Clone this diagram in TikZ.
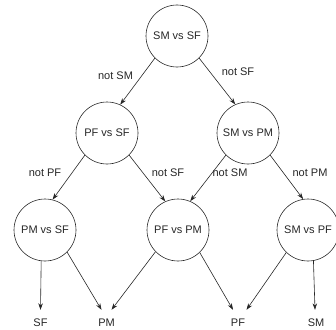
\documentclass[tikz,border=0pt]{standalone}
\usepackage{fontspec}
\setmainfont{Liberation Sans}
\usetikzlibrary{arrows.meta}
\begin{document}
\begin{tikzpicture}[x=1pt,y=-1pt,
  font=\fontsize{11}{13}\selectfont,
  dec/.style={circle,draw=black!85,line width=0.6pt,minimum size=62pt,inner sep=0pt,text=black!85},
  leaf/.style={inner sep=0pt,minimum height=26pt,text=black!85},
  lab/.style={inner sep=0pt,text=black!85},
  arr/.style={draw=black!85,line width=0.6pt,-{Stealth[length=6.5pt,width=4.5pt]}}]
\useasboundingbox (0,0) rectangle (336,329);
\node[dec] (a) at (177,36) {SM vs SF};
\node[dec] (b) at (107,133) {PF vs SF};
\node[dec] (c) at (248,133) {SM vs PM};
\node[dec] (d) at (45,230) {PM vs SF};
\node[dec] (e) at (178,230) {PF vs PM};
\node[dec] (f) at (308,230) {SM vs PF};
\node[leaf] (sf) at (40.5,323) {SF};
\node[leaf] (pm) at (106.5,323) {PM};
\node[leaf] (pf) at (238,323) {PF};
\node[leaf] (sm) at (316,323) {SM};
\draw[arr] (a.225) -- (b.65);
\draw[arr] (a.315) -- (c.114);
\draw[arr] (b.225) -- (d.76);
\draw[arr] (b.315) -- (e.114);
\draw[arr] (c.225) -- (e.67);
\draw[arr] (c.315) -- (f.99);
\draw[arr] (d.263) -- (sf.north);
\draw[arr] (d.315) -- ([xshift=-5pt]pm.north);
\draw[arr] (e.224) -- ([xshift=5pt]pm.north);
\draw[arr] (e.314) -- ([xshift=-5pt]pf.north);
\draw[arr] (f.226) -- ([xshift=8.5pt]pf.north);
\draw[arr] (f.280) -- ([xshift=-1pt]sm.north);
\node[lab] (l1) at (115.5,76) {not SM};
\node[lab] (l2) at (238,72) {not SF};
\node[lab] (l3) at (45,173) {not PF};
\node[lab] (l4) at (168,173) {not SF};
\node[lab] (l5) at (230,173) {not SM};
\node[lab] (l6) at (310,173) {not PM};
\end{tikzpicture}
\end{document}
